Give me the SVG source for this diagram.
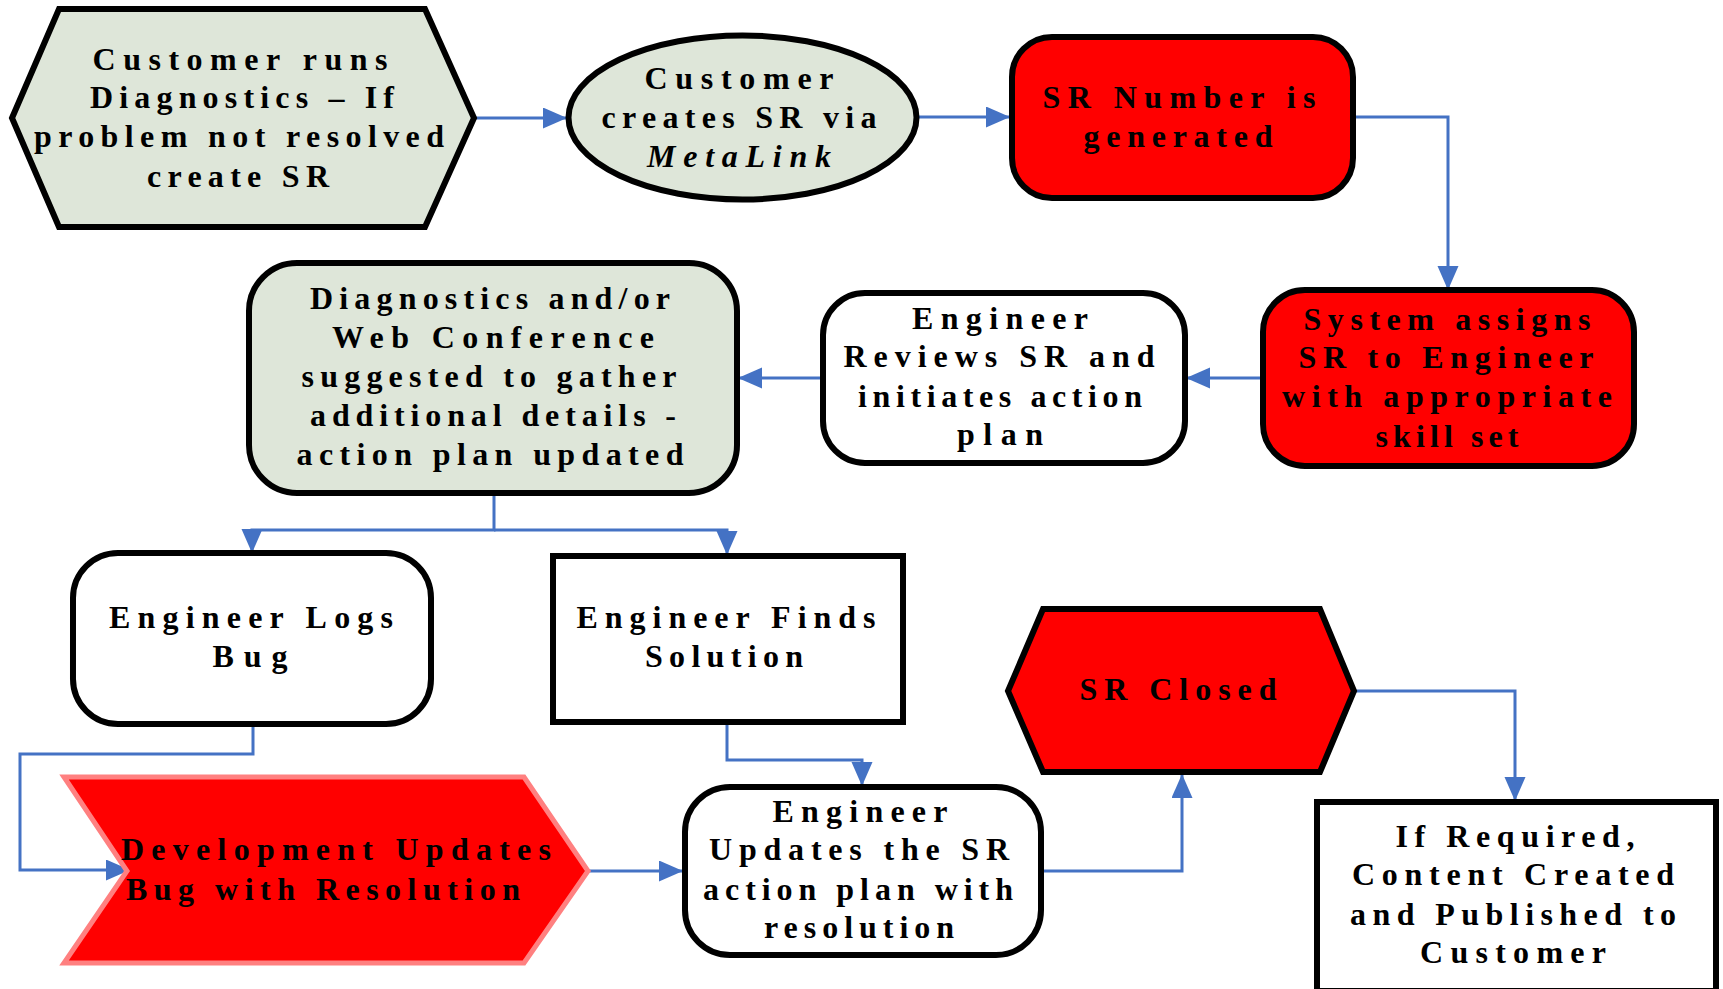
<svg xmlns="http://www.w3.org/2000/svg" width="1723" height="989" viewBox="0 0 1723 989">
<style>
  .t { font-family: "Liberation Serif", "Times New Roman", serif; font-weight: bold; font-size: 32px; fill: #000; text-anchor: middle; }
  .s { text-anchor: start; }
  .i { font-style: italic; }
  .sage { fill: #DEE6D9; stroke: #000; stroke-width: 6; }
  .red { fill: #FF0000; stroke: #000; stroke-width: 6; }
  .white { fill: #FFFFFF; stroke: #000; stroke-width: 6; }
  .conn { fill: none; stroke: #4472C4; stroke-width: 3; marker-end: url(#arr); }
</style>
<defs>
  <marker id="arr" markerUnits="userSpaceOnUse" markerWidth="26" markerHeight="22" refX="24" refY="10.5" orient="auto">
    <path d="M0,0 L24,10.5 L0,21 z" fill="#4472C4"/>
  </marker>
</defs>
<rect width="1723" height="989" fill="#FFFFFF"/>

<g id="connectors">
  <path class="conn" d="M475,118 L567,118"/>
  <path class="conn" d="M917,117 L1010,117"/>
  <path class="conn" d="M1353,117 L1448,117 L1448,290"/>
  <path class="conn" d="M1263,378 L1186,378"/>
  <path class="conn" d="M823,378 L738,378"/>
  <path class="conn" d="M494,493 L494,530 L252,530 L252,553"/>
  <path class="conn" d="M494,530 L727,530 L727,555"/>
  <path class="conn" d="M253,724 L253,754 L20,754 L20,870 L130,870"/>
  <path class="conn" d="M727,722 L727,760 L862,760 L862,786"/>
  <path class="conn" d="M588,871 L683,871"/>
  <path class="conn" d="M1041,871 L1182,871 L1182,774"/>
  <path class="conn" d="M1354,691 L1515,691 L1515,801"/>
</g>

<g id="n1">
  <polygon class="sage" points="12,118 59,9 425,9 474,118 425,227 59,227"/>
  <text class="t" x="240" y="70" textLength="295" lengthAdjust="spacing">Customer runs</text>
  <text class="t" x="242" y="108" textLength="304" lengthAdjust="spacing">Diagnostics – If</text>
  <text class="t" x="239" y="147" textLength="410" lengthAdjust="spacing">problem not resolved</text>
  <text class="t" x="238" y="187" textLength="182" lengthAdjust="spacing">create SR</text>
</g>

<g id="n2">
  <ellipse class="sage" cx="742.5" cy="117.5" rx="174" ry="82"/>
  <text class="t" x="739" y="89" textLength="189" lengthAdjust="spacing">Customer</text>
  <text class="t" x="739" y="128" textLength="275" lengthAdjust="spacing">creates SR via</text>
  <text class="t i" x="739" y="167" textLength="184" lengthAdjust="spacing">MetaLink</text>
</g>

<g id="n3">
  <rect class="red" x="1012" y="37" width="341" height="161" rx="40" ry="40"/>
  <text class="t" x="1179" y="108" textLength="273" lengthAdjust="spacing">SR Number is</text>
  <text class="t" x="1178" y="147" textLength="189" lengthAdjust="spacing">generated</text>
</g>

<g id="n4">
  <rect class="red" x="1263" y="290" width="371" height="176" rx="42" ry="42"/>
  <text class="t" x="1447" y="330" textLength="287" lengthAdjust="spacing">System assigns</text>
  <text class="t" x="1446" y="368" textLength="295" lengthAdjust="spacing">SR to Engineer</text>
  <text class="t" x="1447" y="407" textLength="330" lengthAdjust="spacing">with appropriate</text>
  <text class="t" x="1447" y="447" textLength="143" lengthAdjust="spacing">skill set</text>
</g>

<g id="n5">
  <rect class="white" x="823" y="293" width="362" height="170" rx="42" ry="42"/>
  <text class="t" x="1000" y="329" textLength="176" lengthAdjust="spacing">Engineer</text>
  <text class="t" x="999" y="367" textLength="311" lengthAdjust="spacing">Reviews SR and</text>
  <text class="t" x="1000" y="407" textLength="284" lengthAdjust="spacing">initiates action</text>
  <text class="t" x="1000" y="445" textLength="86" lengthAdjust="spacing">plan</text>
</g>

<g id="n6">
  <rect class="sage" x="249" y="263" width="488" height="230" rx="48" ry="48"/>
  <text class="t" x="490" y="309" textLength="360" lengthAdjust="spacing">Diagnostics and/or</text>
  <text class="t" x="493" y="348" textLength="322" lengthAdjust="spacing">Web Conference</text>
  <text class="t" x="489" y="387" textLength="375" lengthAdjust="spacing">suggested to gather</text>
  <text class="t" x="493" y="426" textLength="366" lengthAdjust="spacing">additional details -</text>
  <text class="t" x="490" y="465" textLength="387" lengthAdjust="spacing">action plan updated</text>
</g>

<g id="n7">
  <rect class="white" x="73" y="553" width="358" height="171" rx="45" ry="45"/>
  <text class="t" x="251" y="628" textLength="284" lengthAdjust="spacing">Engineer Logs</text>
  <text class="t" x="250" y="667" textLength="75" lengthAdjust="spacing">Bug</text>
</g>

<g id="n8">
  <rect class="white" x="553" y="556" width="350" height="166"/>
  <text class="t" x="726" y="628" textLength="299" lengthAdjust="spacing">Engineer Finds</text>
  <text class="t" x="724" y="667" textLength="158" lengthAdjust="spacing">Solution</text>
</g>

<g id="n9">
  <polygon points="64,777 524,777 588,871 524,963 64,963 127,871" fill="#FF0000" stroke="#FF8080" stroke-width="5" stroke-linejoin="miter"/>
  <text class="t s" x="121" y="860" textLength="430" lengthAdjust="spacing">Development Updates</text>
  <text class="t s" x="126" y="900" textLength="394" lengthAdjust="spacing">Bug with Resolution</text>
</g>

<g id="n10">
  <rect class="white" x="685" y="787" width="356" height="168" rx="45" ry="45"/>
  <text class="t" x="860" y="822" textLength="175" lengthAdjust="spacing">Engineer</text>
  <text class="t" x="859" y="860" textLength="300" lengthAdjust="spacing">Updates the SR</text>
  <text class="t" x="858" y="900" textLength="310" lengthAdjust="spacing">action plan with</text>
  <text class="t" x="859" y="938" textLength="190" lengthAdjust="spacing">resolution</text>
</g>

<g id="n11">
  <polygon class="red" points="1008,691 1043,609 1320,609 1354,691 1320,772 1043,772"/>
  <text class="t" x="1178" y="700" textLength="197" lengthAdjust="spacing">SR Closed</text>
</g>

<g id="n12">
  <rect class="white" x="1317" y="802" width="399" height="189"/>
  <text class="t" x="1515" y="847" textLength="239" lengthAdjust="spacing">If Required,</text>
  <text class="t" x="1513" y="885" textLength="322" lengthAdjust="spacing">Content Created</text>
  <text class="t" x="1513" y="925" textLength="326" lengthAdjust="spacing">and Published to</text>
  <text class="t" x="1513" y="963" textLength="186" lengthAdjust="spacing">Customer</text>
</g>
</svg>
